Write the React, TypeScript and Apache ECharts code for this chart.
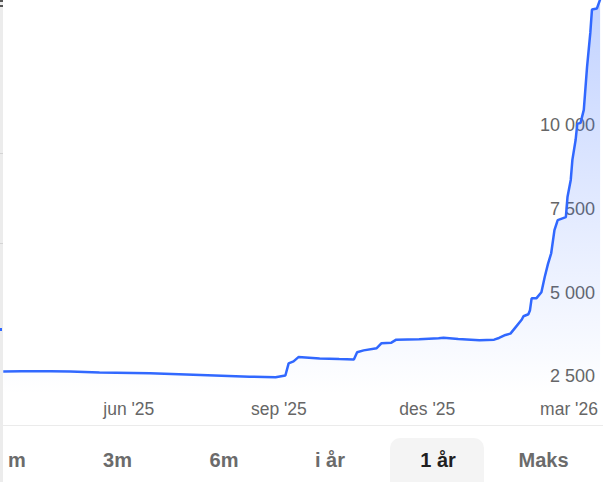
import React, { useEffect, useRef } from "react";
import * as echarts from "echarts";

const dates = [
  "2025-03-16", "2025-03-27", "2025-04-14", "2025-04-26", "2025-05-14", "2025-06-14",
  "2025-07-15", "2025-08-14", "2025-08-30", "2025-09-05", "2025-09-07", "2025-09-10",
  "2025-09-13", "2025-09-26", "2025-10-08", "2025-10-17", "2025-10-19", "2025-10-23",
  "2025-10-31", "2025-11-03", "2025-11-09", "2025-11-12", "2025-11-26", "2025-12-08",
  "2025-12-11", "2025-12-20", "2026-01-02", "2026-01-11", "2026-01-14", "2026-01-18",
  "2026-01-21", "2026-01-24", "2026-01-28", "2026-01-29", "2026-02-01", "2026-02-02",
  "2026-02-03", "2026-02-06", "2026-02-09", "2026-02-11", "2026-02-13", "2026-02-15",
  "2026-02-17", "2026-02-19", "2026-02-24", "2026-02-25", "2026-02-27", "2026-02-28",
  "2026-03-02", "2026-03-03", "2026-03-05", "2026-03-07", "2026-03-09", "2026-03-11",
  "2026-03-12", "2026-03-15", "2026-03-17",
];

const prices = [
  2650, 2655, 2660, 2650, 2620, 2595,
  2545, 2495, 2480, 2530, 2890, 2950,
  3080, 3040, 3020, 3010, 3225, 3280,
  3345, 3495, 3510, 3600, 3610, 3640,
  3660, 3620, 3580, 3600, 3650, 3740,
  3780, 3960, 4200, 4300, 4360, 4480,
  4835, 4840, 5015, 5465, 5855, 6180,
  6870, 7170, 7260, 7860, 8370, 8970,
  9570, 10045, 10075, 10465, 11750, 12770,
  13460, 13490, 13760,
];

const xTickDates = ["2025-06-01", "2025-09-01", "2025-12-01", "2026-03-01"];
const xTickLabels = ["jun '25", "sep '25", "des '25", "mar '26"];
const yTickValues = [2500, 5000, 7500, 10000];

const rangeButtons = ["m", "3m", "6m", "i år", "1 år", "Maks"];
const activeButton = "1 år";

const FONT = "'Liberation Sans', Arial, sans-serif";
const LINE = "#3168ff";

const ts = (s: string) => new Date(s + "T00:00:00Z").getTime();

export default function App() {
  const ref = useRef<HTMLDivElement>(null);

  useEffect(() => {
    document.body.style.margin = "0";
    if (!ref.current) return;
    const chart = echarts.init(ref.current, undefined, { renderer: "svg" });

    const tickTs = xTickDates.map(ts);
    const buttonX = [17, 117.5, 224, 330, 438, 543.5];

    const option: any = {
      animation: false,
      backgroundColor: "#ffffff",
      grid: { left: 0, right: 0, top: 0, bottom: 87 },
      xAxis: {
        type: "value",
        min: ts("2025-03-14"),
        max: ts("2026-03-20"),
        axisLine: { show: false },
        axisTick: { show: false },
        splitLine: { show: false },
        axisLabel: {
          customValues: tickTs,
          margin: 5,
          color: "#666666",
          fontSize: 17.5,
          fontFamily: FONT,
          formatter: (v: number) => {
            const i = tickTs.findIndex((t) => Math.abs(t - v) < 43200000);
            if (i < 0) return "";
            if (i === tickTs.length - 1) return "{r|" + xTickLabels[i] + "}";
            return xTickLabels[i];
          },
          rich: {
            r: { padding: [0, 10, 0, 0], color: "#666666", fontSize: 17.5, fontFamily: FONT },
          },
        },
      },
      yAxis: {
        type: "value",
        position: "right",
        min: 1947,
        max: 13746,
        axisLine: { show: false },
        axisTick: { show: false },
        splitLine: { show: false },
        axisLabel: {
          inside: true,
          margin: 10,
          customValues: yTickValues,
          color: "#666666",
          fontSize: 18,
          fontFamily: FONT,
          formatter: (v: number) => String(v).replace(/\B(?=(\d{3})+(?!\d))/g, " "),
        },
      },
      series: [
        {
          type: "line",
          data: dates.map((d, i) => [ts(d), prices[i]]),
          showSymbol: false,
          symbol: "none",
          lineStyle: { color: LINE, width: 2.5 },
          areaStyle: {
            color: new echarts.graphic.LinearGradient(0, 0, 0, 1, [
              { offset: 0, color: "rgba(49,104,255,0.42)" },
              { offset: 1, color: "rgba(49,104,255,0)" },
            ]),
          },
          z: 3,
        },
      ],
      graphic: [
        { type: "rect", shape: { x: 0, y: 0, width: 3, height: 482 }, style: { fill: "#ececec" }, z: 10 },
        { type: "rect", shape: { x: 0, y: 0, width: 3, height: 2 }, style: { fill: "#555555" }, z: 11 },
        { type: "rect", shape: { x: 0, y: 5, width: 3, height: 2 }, style: { fill: "#555555" }, z: 11 },
        { type: "rect", shape: { x: 0, y: 153, width: 3, height: 1 }, style: { fill: "#d4d4d4" }, z: 11 },
        { type: "rect", shape: { x: 0, y: 243, width: 3, height: 1 }, style: { fill: "#d4d4d4" }, z: 11 },
        { type: "rect", shape: { x: 0, y: 328, width: 2, height: 3 }, style: { fill: LINE }, z: 11 },
        {
          type: "line",
          shape: { x1: 3, y1: 425.5, x2: 603, y2: 425.5 },
          style: { stroke: "#ebebeb", lineWidth: 1 },
          z: 10,
        },
        {
          type: "rect",
          shape: { x: 390, y: 438, width: 94, height: 60, r: 10 },
          style: { fill: "#f4f4f4" },
          z: 10,
        },
        ...rangeButtons.map((b, i) => ({
          type: "text",
          x: buttonX[i],
          y: 460,
          z: 12,
          style: {
            text: b,
            fill: b === activeButton ? "#1f1f1f" : "#6b6b6b",
            font: "bold 20px " + FONT,
            textAlign: "center",
            textVerticalAlign: "middle",
          },
        })),
      ],
    };

    chart.setOption(option);
    return () => chart.dispose();
  }, []);

  return <div ref={ref} style={{ width: 605, height: 482 }} />;
}
